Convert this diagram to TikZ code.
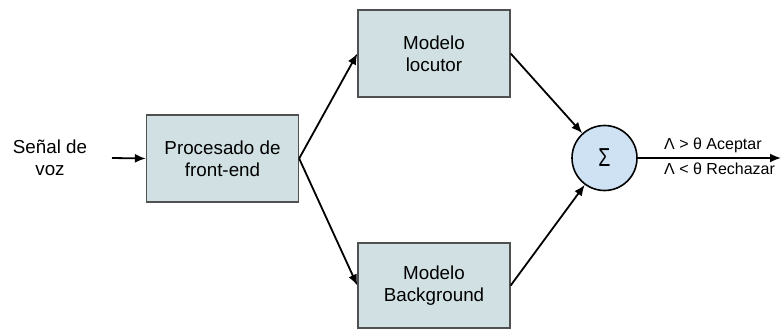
\documentclass[tikz,border=0pt]{standalone}
\usepackage{fontspec}
\setmainfont{Liberation Sans}
\usetikzlibrary{arrows.meta}
\definecolor{BoxFill}{HTML}{D0E0E3}
\definecolor{SumFill}{HTML}{CFE2F3}
\definecolor{BoxLine}{HTML}{505050}
\tikzset{%
	% Style of the blocks
	Block/.style={rectangle,draw=BoxLine,fill=BoxFill,line width=1.3pt,inner sep=0,
		minimum width=152,minimum height=87,align=center,
		font=\fontsize{18.8}{22}\selectfont},
	% Style of the summing node
	Sum/.style={circle,draw=black,fill=SumFill,line width=1.6pt,inner sep=0,minimum size=65},
	% Style of the plain texts
	TextName/.style={align=center,font=\fontsize{18.8}{22}\selectfont,inner sep=0},
	% Style of the decision labels
	ArrowName/.style={anchor=west,font=\fontsize{16}{18}\selectfont,inner sep=0},
	% Style of the branch
	Connection/.style={line width=1.8pt,-{Latex[length=11pt,width=9pt]}},
}
\begin{document}
\begin{tikzpicture}[x=1pt,y=-1pt] % STYLES
\useasboundingbox (0,0) rectangle (781,329);

%~~~~~~~~~~~~~~~~~~~~~~~~~~~~~~~~~~~~~~~~~~~~~~~~~~
% Set Nodes
%~~~~~~~~~~~~~~~~~~~~~~~~~~~~~~~~~~~~~~~~~~~~~~~~~~
\node[TextName] (Senal) at (50, 158) {Señal de\\voz};
\coordinate (In) at (112, 158);

\node[Block] (Proc) at (222.5, 158.5) {Procesado de\\front-end};

\node[Block] (Loc) at (434, 53.5) {Modelo\\locutor};

\node[Block, minimum height=85] (Bg) at (434, 285.5) {Modelo\\Background};

\node[Sum] (S) at (604.5, 158) {\fontsize{26}{26}\selectfont\scalebox{0.75}[1]{Σ}};
\coordinate (Out) at (781, 158);

\node[ArrowName] (Acc) at (664, 145) {Λ > θ Aceptar};
\node[ArrowName] (Rej) at (664, 169) {Λ < θ Rechazar};

%~~~~~~~~~~~~~~~~~~~~~~~~~~~~~~~~~~~~~~~~~~~~~~~~~~
% Set Branches
%~~~~~~~~~~~~~~~~~~~~~~~~~~~~~~~~~~~~~~~~~~~~~~~~~~
%Branch from input to Proc
\draw [Connection] (In) -- (Proc.west);

%Branch from Proc to Loc and Bg
\draw [Connection] (Proc.east) -- (Loc.west);
\draw [Connection] (Proc.east) -- (Bg.west);

%Branch from Loc and Bg to S
\draw [Connection] (Loc.east) -- (S);
\draw [Connection] (Bg.east) -- (S);

%Branch from S to output
\draw [Connection] (S.east) -- (Out);

\end{tikzpicture}
\end{document}
